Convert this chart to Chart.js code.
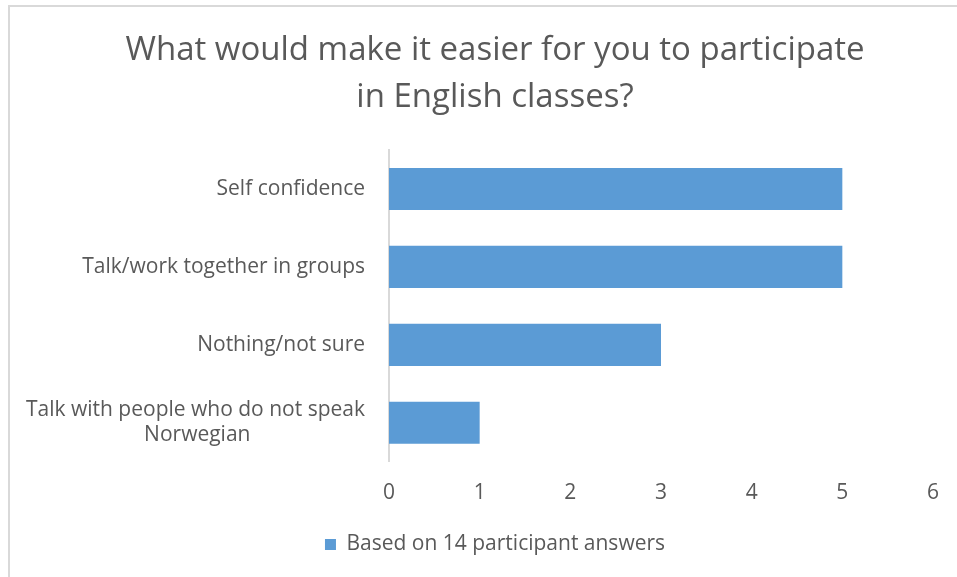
<!DOCTYPE html>
<html>
<head>
<meta charset="utf-8">
<script src="https://cdn.jsdelivr.net/npm/chart.js@4.4.0/dist/chart.umd.min.js"></script>
<style>
  body { margin: 0; background: #fff; overflow: hidden; }
  #wrap { position: relative; width: 957px; height: 577px; overflow: hidden; }
  #frame { position: absolute; left: 8px; top: 5px; right: -5px; bottom: -5px; border-top: 2px solid #d9d9d9; border-left: 2px solid #d9d9d9; }
  canvas { position: absolute; left: 0; top: 0; }
</style>
</head>
<body>
<div id="wrap">
  <div id="frame"></div>
  <canvas id="answersChart" width="970" height="577"></canvas>
</div>
<script>
// categories, top to bottom
const labels = [
  "Self confidence",
  "Talk/work together in groups",
  "Nothing/not sure",
  ["Talk with people who do not speak", "Norwegian"]
];
// number of answers per category
const answers = [5, 5, 3, 1];
const xTicks = [0, 1, 2, 3, 4, 5, 6];
const seriesName = "Based on 14 participant answers";

const grey = "#595959";
const blue = "#5b9bd5";
const fontFamily = "'Open Sans', sans-serif";
const labelSize = 21;

window.onload = function(){
var ctx = document.getElementById("answersChart").getContext('2d');

// wrapped labels: centre the shorter lines under the longest one (right aligned axis)
function centreLines(lines){
  ctx.save();
  ctx.font = labelSize + "px " + fontFamily;
  var widths = lines.map(function(l){ return ctx.measureText(l).width; });
  var widest = Math.max.apply(null, widths);
  var space = ctx.measureText(" ").width;
  ctx.restore();
  return lines.map(function(l, i){
    var n = Math.round((widest - widths[i]) / 2 / space);
    return l + " ".repeat(n);
  });
}

var answersChart = new Chart(ctx, {
  type: 'bar',
  data: {
    labels: labels,
    datasets: [{
      label: seriesName,
      data: answers,
      backgroundColor: blue,
      borderWidth: 0,
      barPercentage: 0.54,
      categoryPercentage: 1
    }]
  },
  options: {
    indexAxis: 'y',
    responsive: false,
    animation: false,
    // canvas is a bit wider than the page so title/legend centre at x~495
    layout: {
      padding: { left: 20, right: 0, top: 4, bottom: 12 }
    },
    plugins: {
      title: {
        display: true,
        text: ["What would make it easier for you to participate", "in English classes?"],
        color: grey,
        font: { family: fontFamily, size: 33, weight: 'normal', lineHeight: 1.424 },
        padding: { top: 23, bottom: 29 }
      },
      legend: {
        position: 'bottom',
        labels: {
          color: grey,
          boxWidth: 11,
          boxHeight: 11,
          padding: 9,
          font: { family: fontFamily, size: labelSize }
        }
      },
      tooltip: { enabled: false }
    },
    scales: {
      x: {
        min: xTicks[0],
        max: xTicks[xTicks.length - 1],
        afterBuildTicks: function(scale){
          scale.ticks = xTicks.map(function(v){ return { value: v }; });
        },
        // keep the plot's right edge at x=933
        afterFit: function(scale){ scale.paddingRight = 37; },
        grid: { display: false, drawTicks: false },
        border: { display: false },
        ticks: {
          color: grey,
          padding: 19,
          font: { family: fontFamily, size: labelSize }
        }
      },
      y: {
        afterFit: function(scale){ scale.width = 369; },
        grid: { display: false, drawTicks: false },
        border: { display: true, color: '#d9d9d9', width: 2 },
        ticks: {
          color: grey,
          padding: 24,
          font: { family: fontFamily, size: labelSize },
          callback: function(value){
            var lab = this.getLabelForValue(value);
            return Array.isArray(lab) ? centreLines(lab) : lab;
          }
        }
      }
    }
  }
});
}
</script>
</body>
</html>
